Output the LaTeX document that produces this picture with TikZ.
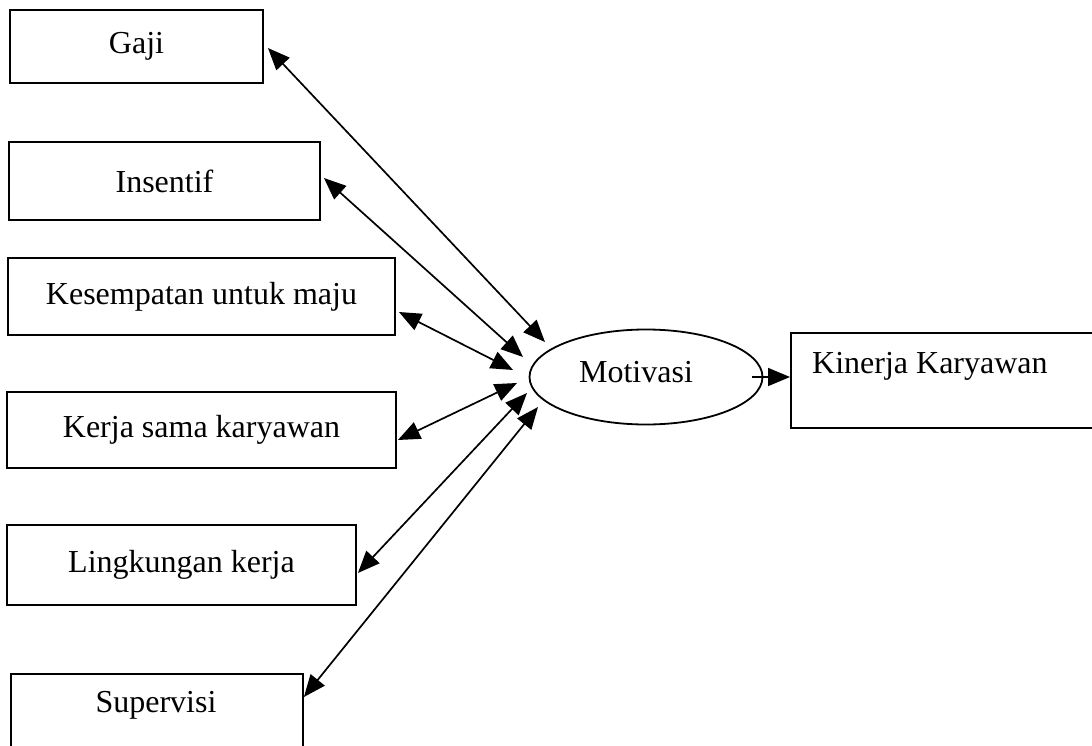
\documentclass[tikz,border=0pt]{standalone}
\usepackage{fontspec}
\setmainfont{Liberation Serif}
\usetikzlibrary{arrows.meta,shapes.geometric,calc}
\begin{document}
\begin{tikzpicture}[x=1pt,y=-1pt,
  mytri/.tip={Triangle[length=22pt,width=18pt]},
  box/.style={draw, line width=1.9pt, rectangle, inner sep=0pt, font=\fontsize{32}{38}\selectfont},
  oval/.style={draw, line width=1.8pt, ellipse, inner sep=0pt, font=\fontsize{32}{38}\selectfont},
  txt/.style={font=\fontsize{32}{38}\selectfont, inner sep=0pt},
  bi/.style={line width=1.7pt, mytri-mytri},
  uni/.style={line width=1.7pt, -mytri}]
\useasboundingbox (0,0) rectangle (1092,746);
\clip (0,0) rectangle (1092,746);
\fill[white] (0,0) rectangle (1092,746);
% boxes
\node[box, minimum width=253pt, minimum height=73pt] (gaji) at (136.5,46.5) {Gaji};
\node[box, minimum width=311pt, minimum height=78pt] (ins) at (164.5,181) {Insentif};
\node[box, minimum width=387pt, minimum height=77pt] (kes) at (201.5,296.5) {Kesempatan untuk maju};
\node[box, minimum width=389pt, minimum height=76pt] (ker) at (201.5,430) {Kerja sama karyawan};
\node[box, minimum width=349pt, minimum height=80pt] (lin) at (181.5,565) {Lingkungan kerja};
\node[box, minimum width=292pt, minimum height=90pt, anchor=north west] (sup) at (10,673) {};
\node[txt, anchor=base] (suptxt) at (156,712) {Supervisi};
\node[box, minimum width=320pt, minimum height=95pt, anchor=north west] (kin) at (790,332) {};
\node[txt, anchor=base west] (kintxt) at (812,373) {Kinerja Karyawan};
% ellipse
\node[oval, minimum width=233pt, minimum height=95pt] (mot) at (646,377) {};
\node[txt, anchor=base] (mottxt) at (636,382) {Motivasi};
% ellipse-side endpoints
\coordinate (m1) at (545,342);
\coordinate (m2) at (523,357);
\coordinate (m3) at (513,370);
\coordinate (m4) at (517,383);
\coordinate (m5) at (527,393);
\coordinate (m6) at (538,407);
\coordinate (k0) at (752,377);
% connectors
\draw[bi] ($(gaji.east)+(4,1.5)$) -- (m1);
\draw[bi] ($(ins.east)+(3,-3)$) -- (m2);
\draw[bi] ($(kes.east)+(3,15.5)$) -- (m3);
\draw[bi] ($(ker.east)+(1,10)$) -- (m4);
\draw[bi] ($(lin.east)+(1,8)$) -- (m5);
\draw[bi] ($(sup.north east)+(0,24)$) -- (m6);
\draw[uni] (k0) -- (kin.west |- k0);
\end{tikzpicture}
\end{document}
